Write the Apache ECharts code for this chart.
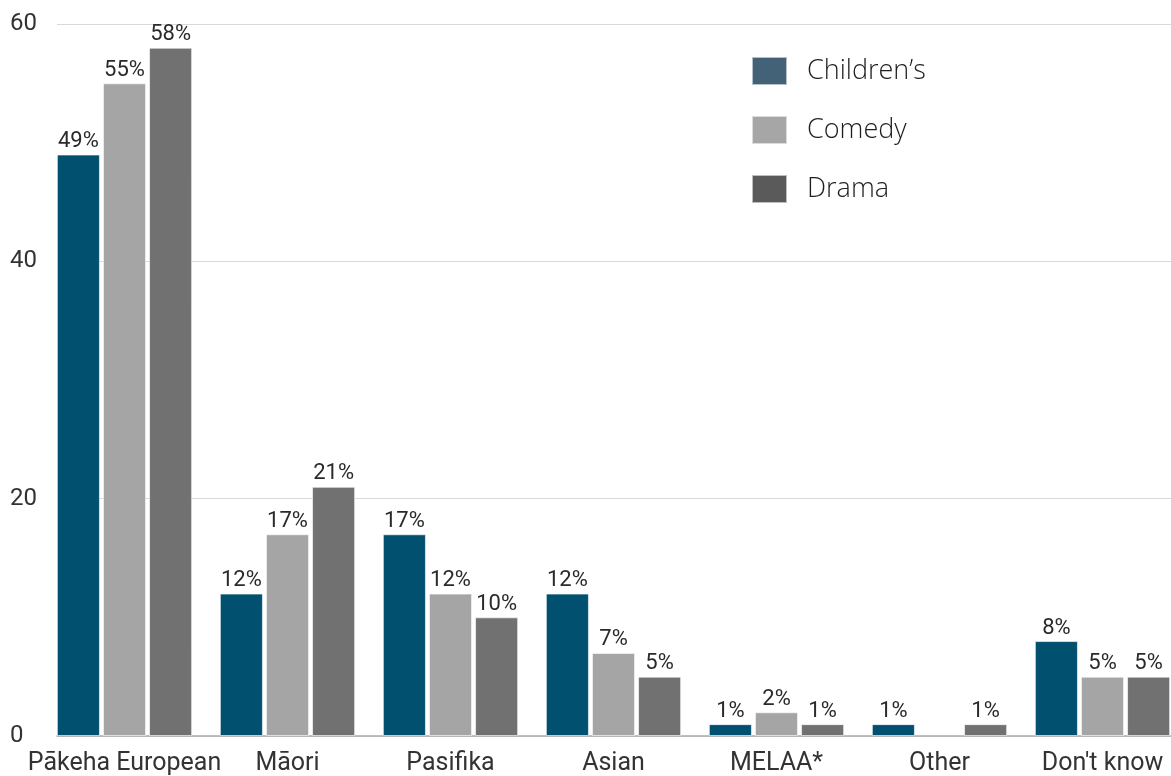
<!DOCTYPE html>
<html>
<head>
<meta charset="utf-8">
<script src="https://cdn.jsdelivr.net/npm/echarts@6/dist/echarts.min.js"></script>
<style>
html,body{margin:0;padding:0;background:#fff;}
#chart{width:1171px;height:776px;}
</style>
</head>
<body>
<div id="chart"></div>
<script>
const categories = ["Pākeha European", "Māori", "Pasifika", "Asian", "MELAA*", "Other", "Don't know"];
const seriesNames = ["Children’s", "Comedy", "Drama"];
const childrens = [49, 12, 17, 12, 1, 1, 8];
const comedy = [55, 17, 12, 7, 2, null, 5];
const drama = [58, 21, 10, 5, 1, 1, 5];
const yTicks = [0, 20, 40, 60];

const barColors = ["#02506f", "#a5a5a5", "#717171"];
const legendColors = ["#436278", "#a6a6a6", "#5a5a5a"];
const values = [childrens, comedy, drama];

const chart = echarts.init(document.getElementById('chart'), null, {renderer: 'canvas'});

const labelStyle = {
  show: true,
  position: 'top',
  distance: 2,
  formatter: p => p.value == null ? '' : p.value + '%',
  fontFamily: 'Roboto',
  fontSize: 22,
  color: '#2a2a2a'
};

chart.setOption({
  animation: false,
  backgroundColor: '#ffffff',
  legend: {
    orient: 'vertical',
    left: 751,
    top: 56,
    padding: 0,
    itemWidth: 35,
    itemHeight: 28,
    itemGap: 29,
    icon: 'rect',
    textStyle: {fontFamily: 'Open Sans', fontWeight: 300, fontSize: 27, color: '#1e1e1e', padding: [0, 0, 0, 15]},
    data: seriesNames.map((n, i) => ({name: n, itemStyle: {color: legendColors[i]}}))
  },
  grid: [
    {left: 57, width: 1114, top: 24, bottom: 40, containLabel: false, outerBoundsMode: 'none'},
    {left: 43, width: 1141, top: 24, bottom: 40, containLabel: false, outerBoundsMode: 'none'}
  ],
  xAxis: [
    {gridIndex: 0, type: 'category', data: categories, show: true,
     axisLine: {show: true, lineStyle: {color: '#aaaaaa', width: 1.5}},
     axisTick: {show: false}, axisLabel: {show: false}},
    {gridIndex: 1, type: 'category', data: categories,
     axisLine: {show: false}, axisTick: {show: false},
     axisLabel: {fontFamily: 'Roboto', fontSize: 25, color: '#333', margin: 15, interval: 0}}
  ],
  yAxis: [
    {gridIndex: 0, type: 'value', min: yTicks[0], max: yTicks[yTicks.length - 1], interval: 20,
     axisLine: {show: false}, axisTick: {show: false},
     axisLabel: {fontFamily: 'Roboto', fontSize: 24, color: '#333', align: 'left', margin: 47},
     splitLine: {lineStyle: {color: '#d9d9d9', width: 1}}},
    {gridIndex: 1, type: 'value', min: yTicks[0], max: yTicks[yTicks.length - 1], interval: 20,
     show: false, splitLine: {show: false}}
  ],
  series: seriesNames.map((n, i) => ({
    name: n,
    type: 'bar',
    xAxisIndex: 1,
    yAxisIndex: 1,
    data: values[i],
    barGap: '7%',
    barCategoryGap: '17%',
    itemStyle: {color: barColors[i], borderColor: 'rgba(255,255,255,0.6)', borderWidth: 1},
    label: labelStyle,
    z: 3
  }))
});
</script>
</body>
</html>
